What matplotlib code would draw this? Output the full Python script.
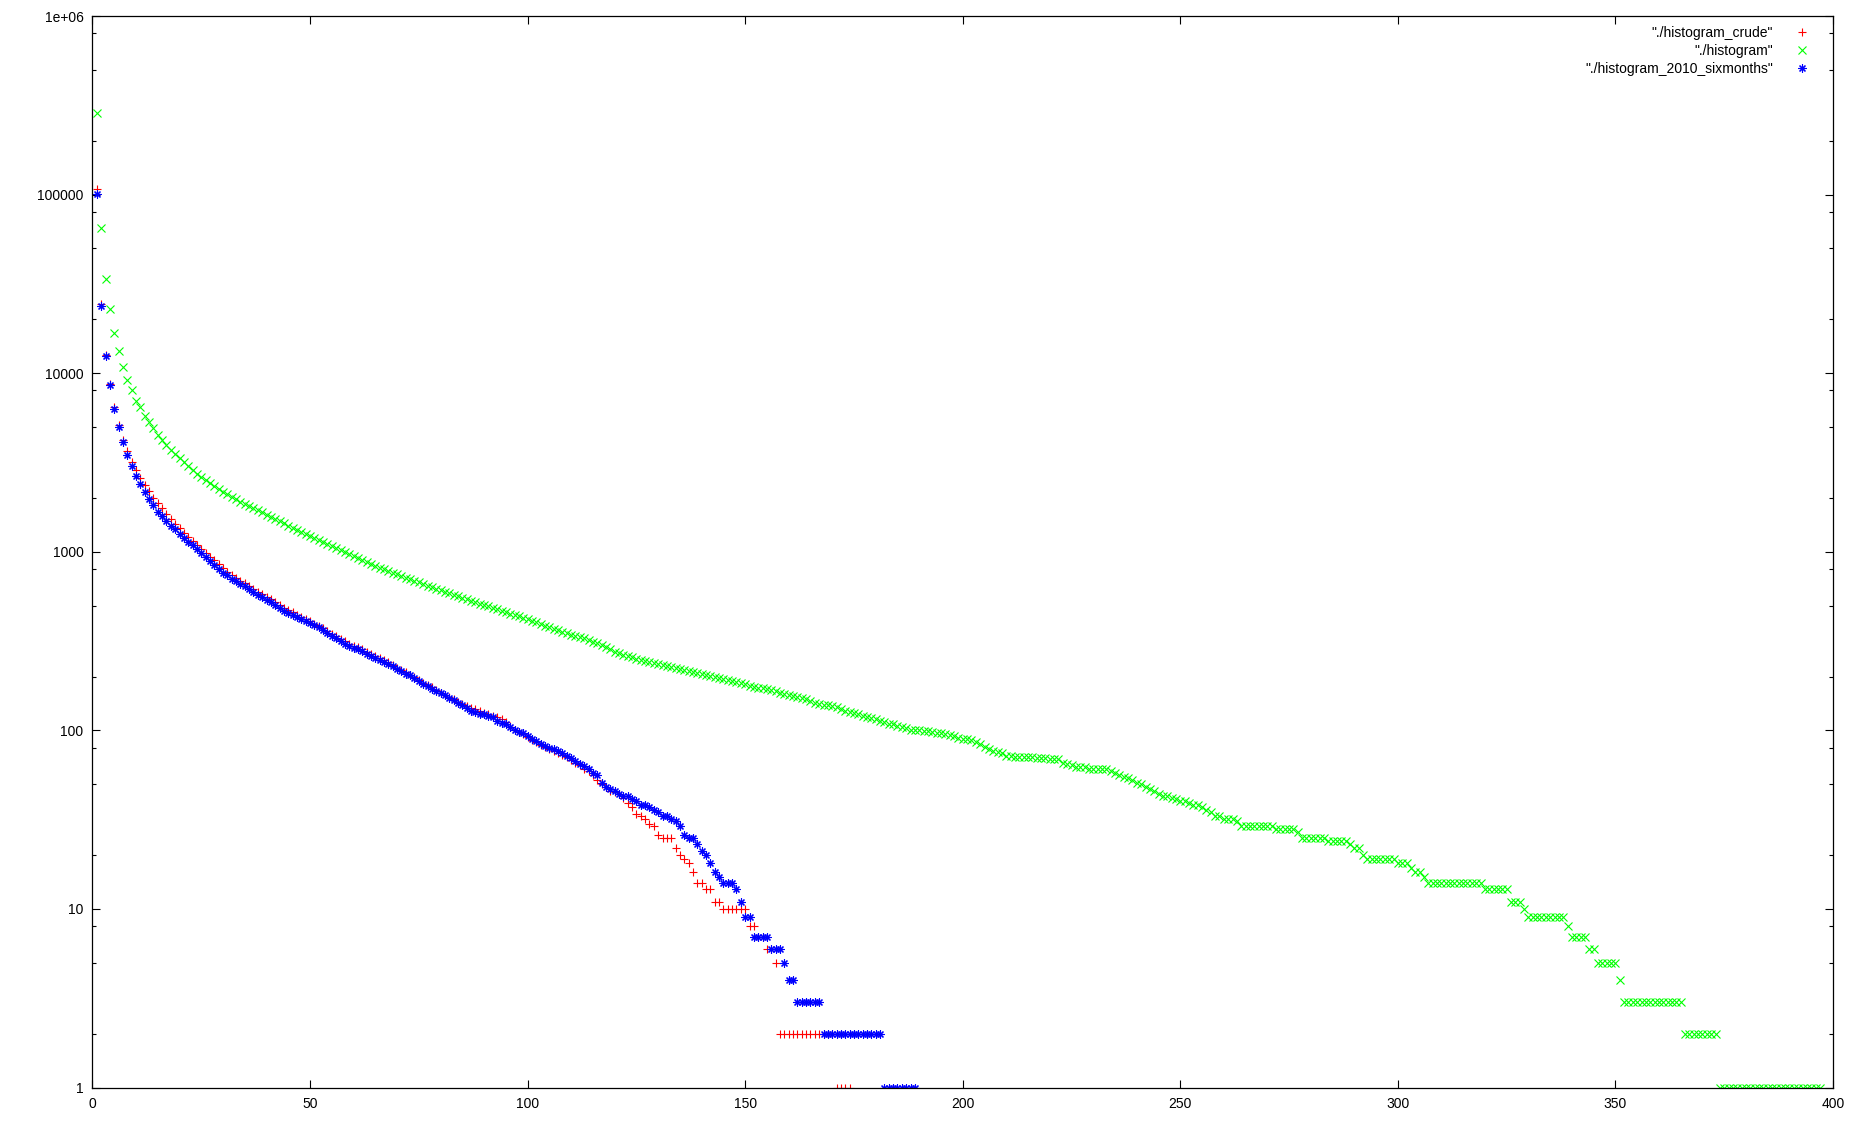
import numpy as np
import matplotlib
matplotlib.use("Agg")
import matplotlib.pyplot as plt
from matplotlib.ticker import LogLocator, NullFormatter

plt.rcParams['font.family'] = ['Liberation Sans', 'DejaVu Sans']
plt.rcParams['font.size'] = 10

# counts per rank (rank = position in list, starting at 1)
crude = [
    108000, 24300, 12600, 8750, 6450, 5100, 4250, 3680, 3190, 2880,
    2580, 2360, 2190, 2010, 1870, 1750, 1625, 1520, 1430, 1350,
    1280, 1210, 1150, 1090, 1040, 985, 940, 895, 850, 810,
    775, 740, 715, 690, 665, 640, 615, 595, 578, 560,
    545, 525, 505, 487, 470, 458, 445, 433, 420, 408,
    396, 385, 372, 360, 346, 336, 326, 316, 306, 298,
    291, 284, 276, 268, 261, 255, 248, 240, 232, 224,
    217, 211, 205, 198, 191, 185, 180, 174, 168, 162,
    157, 153, 149, 144, 140, 137, 134, 131, 128, 125,
    123, 120, 118, 116, 112, 105, 101, 98, 95, 92,
    88, 86, 83, 81, 79, 77, 75, 73, 71, 68,
    66, 64, 61, 59, 56, 53, 50, 48, 46, 45,
    44, 42, 39, 37, 34, 33, 32, 30, 29, 26,
    25, 25, 25, 22, 20, 19, 18, 16, 14, 14,
    13, 13, 11, 11, 10, 10, 10, 10, 10, 10,
    8, 8, 7, 7, 6, 6, 5, 2, 2, 2,
    2, 2, 2, 2, 2, 2, 2, 2, 2, 2,
    1, 1, 1, 1,
]

full = [
    287000, 65000, 33700, 22900, 16700, 13300, 10800, 9200, 8000, 7020,
    6440, 5780, 5310, 4910, 4520, 4240, 3980, 3730, 3530, 3340,
    3180, 3040, 2880, 2730, 2630, 2530, 2430, 2325, 2245, 2170,
    2096, 2024, 1972, 1905, 1842, 1795, 1750, 1705, 1661, 1611,
    1564, 1524, 1485, 1445, 1400, 1360, 1320, 1283, 1250, 1222,
    1195, 1165, 1135, 1105, 1075, 1045, 1020, 995, 970, 945,
    920, 895, 871, 852, 833, 815, 798, 780, 763, 746,
    730, 716, 702, 688, 674, 660, 645, 631, 619, 607,
    595, 584, 573, 563, 553, 543, 533, 523, 513, 503,
    494, 485, 476, 466, 458, 450, 442, 434, 426, 418,
    410, 402, 394, 386, 378, 370, 363, 356, 349, 343,
    338, 333, 327, 320, 314, 308, 300, 292, 284, 276,
    270, 265, 260, 256, 252, 248, 245, 242, 239, 236,
    233, 230, 227, 224, 221, 218, 215, 212, 210, 207,
    204, 201, 198, 196, 194, 191, 189, 186, 184, 181,
    178, 175, 173, 172, 171, 168, 165, 162, 159, 157,
    155, 153, 151, 149, 146, 143, 141, 139, 138, 137,
    135, 132, 129, 127, 125, 123, 121, 119, 117, 115,
    113, 111, 109, 108, 106, 105, 103, 101, 100, 100,
    99, 99, 98, 97, 96, 95, 94, 93, 91, 90,
    89, 88, 86, 84, 81, 79, 77, 76, 75, 72,
    72, 71, 71, 71, 71, 71, 70, 70, 70, 69,
    69, 69, 66, 65, 64, 62, 62, 62, 61, 61,
    61, 61, 61, 59, 58, 56, 55, 54, 53, 51,
    50, 48, 47, 46, 44, 43, 43, 42, 41, 40,
    40, 39, 38, 38, 37, 36, 35, 33, 33, 32,
    32, 32, 31, 29, 29, 29, 29, 29, 29, 29,
    29, 28, 28, 28, 28, 28, 27, 25, 25, 25,
    25, 25, 25, 24, 24, 24, 24, 24, 23, 22,
    22, 20, 19, 19, 19, 19, 19, 19, 19, 18,
    18, 18, 17, 16, 16, 15, 14, 14, 14, 14,
    14, 14, 14, 14, 14, 14, 14, 14, 14, 13,
    13, 13, 13, 13, 13, 11, 11, 11, 10, 9,
    9, 9, 9, 9, 9, 9, 9, 9, 8, 7,
    7, 7, 7, 6, 6, 5, 5, 5, 5, 5,
    4, 3, 3, 3, 3, 3, 3, 3, 3, 3,
    3, 3, 3, 3, 3, 2, 2, 2, 2, 2,
    2, 2, 2, 1, 1, 1, 1, 1, 1, 1,
    1, 1, 1, 1, 1, 1, 1, 1, 1, 1,
    1, 1, 1, 1, 1, 1, 1,
]

sixmonths = [
    101000, 23900, 12450, 8600, 6300, 4980, 4100, 3480, 3010, 2640,
    2390, 2150, 1970, 1825, 1680, 1590, 1490, 1400, 1337, 1264,
    1197, 1140, 1094, 1041, 987, 932, 890, 846, 802, 763,
    737, 707, 685, 664, 641, 616, 594, 576, 558, 540,
    526, 505, 485, 466, 455, 444, 432, 422, 410, 398,
    390, 380, 365, 352, 338, 328, 318, 306, 298, 290,
    284, 277, 267, 260, 255, 248, 242, 235, 228, 220,
    214, 208, 203, 196, 189, 182, 176, 171, 166, 162,
    157, 152, 148, 143, 138, 134, 129, 126, 124, 123,
    121, 118, 113, 110, 108, 105, 101, 98, 96, 93,
    89, 87, 84, 82, 80, 79, 77, 75, 72, 70,
    67, 65, 63, 61, 58, 56, 51, 48, 47, 46,
    44, 43, 43, 41, 40, 38, 38, 37, 36, 35,
    33, 33, 32, 31, 29, 26, 25, 25, 23, 21,
    20, 18, 16, 15, 14, 14, 14, 13, 11, 9,
    9, 7, 7, 7, 7, 6, 6, 6, 5, 4,
    4, 3, 3, 3, 3, 3, 3, 2, 2, 2,
    2, 2, 2, 2, 2, 2, 2, 2, 2, 2,
    2, 1, 1, 1, 1, 1, 1, 1, 1,
]

labels = ['"./histogram_crude"', '"./histogram"', '"./histogram_2010_sixmonths"']
xticks = [0, 50, 100, 150, 200, 250, 300, 350, 400]
yticks = [1, 10, 100, 1000, 10000, 100000, 1000000]
ytick_labels = ['1', '10', '100', '1000', '10000', '100000', '1e+06']

fig = plt.figure(figsize=(18.56, 11.21), dpi=100)
ax = fig.add_axes([92.5 / 1856, 33.5 / 1121, (1833 - 92.5) / 1856, (1087.5 - 16) / 1121])

ms = 5.8
mew = 0.8
ax.plot(np.arange(1, len(crude) + 1), crude, linestyle='none', marker='+',
        color='#ff0000', ms=ms, mew=mew, label=labels[0])
ax.plot(np.arange(1, len(full) + 1), full, linestyle='none', marker='x',
        color='#00ff00', ms=ms * 0.9, mew=mew, label=labels[1])
ax.plot(np.arange(1, len(sixmonths) + 1), sixmonths, linestyle='none', marker=(8, 2, 0),
        color='#0000ff', ms=ms, mew=mew, label=labels[2])

ax.set_yscale('log')
ax.set_xlim(0, 400)
ax.set_ylim(1, 1e6)
ax.set_xticks(xticks, [str(t) for t in xticks])
ax.set_yticks(yticks, ytick_labels)
ax.yaxis.set_minor_locator(LogLocator(base=10, subs=(2, 5, 8)))
ax.yaxis.set_minor_formatter(NullFormatter())

ax.tick_params(which='both', direction='in', top=True, right=True, width=0.8, color='black')
ax.tick_params(which='major', length=5.5, pad=6.5)
ax.tick_params(which='minor', length=3)
for s in ax.spines.values():
    s.set_linewidth(0.9)

ax.legend(loc='upper right', bbox_to_anchor=(0.9862, 0.9905), frameon=False,
          markerfirst=False, borderpad=0, borderaxespad=0, handlelength=1.0,
          handletextpad=1.6, labelspacing=0.27, fontsize=10)

fig.savefig('out.png', dpi=100)
